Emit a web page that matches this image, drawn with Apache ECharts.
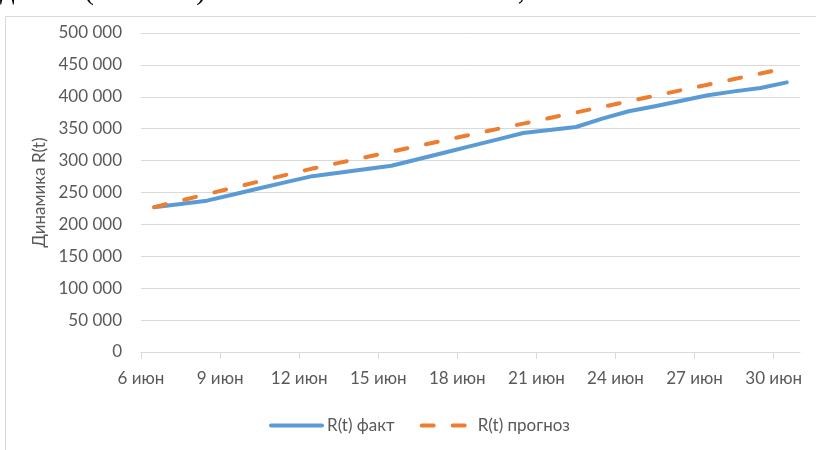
<!DOCTYPE html>
<html lang="ru">
<head>
<meta charset="utf-8">
<title>Динамика R(t)</title>
<script src="https://cdn.jsdelivr.net/npm/echarts@6/dist/echarts.min.js"></script>
<style>
  html, body { margin: 0; padding: 0; background: #ffffff; }
  #chart { width: 816px; height: 450px; }
</style>
</head>
<body>
<div id="chart"></div>
<script>
// Дни июня, для которых есть значения
const days = [6, 7, 8, 9, 10, 11, 12, 13, 14, 15, 16, 17, 18, 19, 20, 21, 22, 23, 24, 25, 26, 27, 28, 29, 30];

// Фактические значения R(t)
const factValues = [
  227000, 232000, 237200, 246900, 256600, 266200, 275600, 281000, 286500, 292000,
  302200, 312400, 322600, 332800, 343300, 348000, 352700, 365700, 377400, 385300,
  393900, 402500, 408500, 413800, 422600
];

// Прогнозные значения R(t)
const forecastValues = [
  227000, 237300, 247300, 257400, 267600, 277600, 287500, 296400, 305200, 314000,
  322900, 331700, 340600, 349400, 358000, 366800, 375400, 384200, 393000, 401600,
  410400, 419000, 427800, 436500, 445300
];

// Подписи оси дат
const tickDays = [6, 9, 12, 15, 18, 21, 24, 27, 30];
const monthLabel = 'июн';

const seriesNames = ['R(t) факт', 'R(t) прогноз'];
const axisName = 'Динамика R(t)';
const captionText = 'демии (15 июня) отклонение составляет 1,61%.';

// Точка дня стоит в середине его интервала на оси дат
const toPoints = values => days.map((d, i) => [d + 0.5, values[i]]);

const fmtThousands = v => String(v).replace(/\B(?=(\d{3})+(?!\d))/g, ' ');

const textColor = '#595959';
const gridColor = '#d9d9d9';
const font = 'Lato';

const chart = echarts.init(document.getElementById('chart'), null, { renderer: 'canvas' });

chart.setOption({
  animation: false,
  backgroundColor: '#ffffff',
  graphic: [
    {
      type: 'text',
      left: 0,
      top: -23,
      style: {
        text: captionText,
        font: '29px "Liberation Serif"',
        fill: '#000000'
      }
    },
    {
      type: 'rect',
      shape: { x: 5.5, y: 16.5, width: 900, height: 600 },
      style: { fill: 'none', stroke: gridColor, lineWidth: 1 },
      silent: true
    }
  ],
  grid: { left: 141, right: 16, top: 33, bottom: 98, containLabel: false },
  legend: {
    left: 264,
    top: 412,
    itemWidth: 51,
    itemHeight: 14,
    itemGap: 25,
    itemStyle: { opacity: 0 },
    lineStyle: { width: 4 },
    textStyle: { fontFamily: font, fontSize: 17, color: textColor },
    data: seriesNames
  },
  xAxis: {
    type: 'value',
    min: 6,
    max: 31,
    interval: 3,
    axisLine: { show: true, lineStyle: { color: gridColor, width: 1 } },
    axisTick: {
      show: true,
      length: 7,
      customValues: tickDays,
      lineStyle: { color: gridColor }
    },
    axisLabel: {
      customValues: tickDays,
      margin: 18,
      fontFamily: font,
      fontSize: 17,
      color: textColor,
      formatter: v => v + ' ' + monthLabel
    },
    splitLine: { show: false }
  },
  yAxis: {
    type: 'value',
    min: 0,
    max: 500000,
    interval: 50000,
    name: axisName,
    nameLocation: 'middle',
    nameGap: 84,
    nameTextStyle: { fontFamily: font, fontSize: 17, color: textColor },
    axisLine: { show: false },
    axisTick: { show: false },
    axisLabel: {
      margin: 19,
      fontFamily: font,
      fontSize: 17,
      color: textColor,
      formatter: fmtThousands
    },
    splitLine: { lineStyle: { color: gridColor, width: 1 } }
  },
  series: [
    {
      name: seriesNames[0],
      type: 'line',
      data: toPoints(factValues),
      symbol: 'none',
      lineStyle: { color: '#5B9BD5', width: 4, cap: 'round', join: 'round' },
      itemStyle: { color: '#5B9BD5' }
    },
    {
      name: seriesNames[1],
      type: 'line',
      data: toPoints(forecastValues),
      symbol: 'none',
      lineStyle: { color: '#ED7D31', width: 4, type: [12, 19], cap: 'round', join: 'round' },
      itemStyle: { color: '#ED7D31' }
    }
  ]
});
</script>
</body>
</html>
